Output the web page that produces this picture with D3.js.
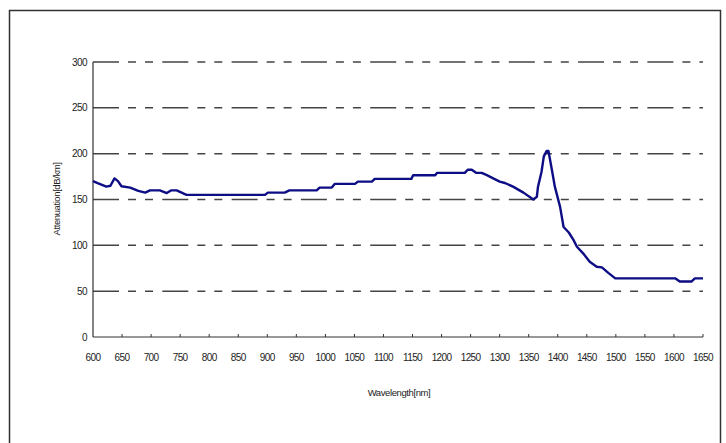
<!DOCTYPE html>
<meta charset="utf-8">
<style>
body { margin: 0; background: #fff; }
text { font-family: "Liberation Sans Narrow", "Liberation Sans", Arial, sans-serif; fill: #222; }
.grid line { stroke: #444; stroke-width: 1.5px; stroke-dasharray: 26,9,8,9,8,9.3; }
</style>
<svg width="726" height="443"></svg>
<script src="https://d3js.org/d3.v7.min.js"></script>
<script>

var wavelength = [600, 609, 623, 630, 637, 643, 649, 664, 678, 690, 698, 715, 727, 735, 744, 761,
  896, 901, 930, 938, 985, 990, 1011, 1016, 1051, 1056, 1080, 1085, 1148, 1151, 1189, 1192,
  1240, 1245, 1252, 1260, 1269, 1278, 1283, 1300, 1309, 1323, 1341, 1358, 1364, 1366, 1372,
  1376, 1381, 1384, 1390, 1395, 1404, 1410, 1419, 1427, 1433, 1444, 1455, 1467, 1476, 1487,
  1499, 1602, 1610, 1630, 1636, 1650];
var attenuation = [170, 167.5, 164, 165, 173, 170, 164.5, 163, 159.5, 157.5, 160, 160, 157, 160, 160, 155,
  155, 157.5, 157.5, 160, 160, 163, 163, 167, 167, 169.5, 169.5, 172.5, 172.5, 176.5, 176.5, 179,
  179, 182.5, 182.5, 179, 179, 176.5, 175, 169.5, 168, 164, 157.5, 150, 153, 164, 180,
  197, 203, 203, 182, 164, 142, 120, 114, 106, 98.5, 91, 82, 76.7, 76, 70,
  64, 64, 60.5, 60.5, 64, 64];

var xTicks = d3.range(600, 1651, 50);
var yTicks = [0, 50, 100, 150, 200, 250, 300];

var svg = d3.select("svg");

// outer frame
svg.append("rect")
    .attr("x", 9.5).attr("y", 10.5)
    .attr("width", 711).attr("height", 450)
    .attr("fill", "none").attr("stroke", "#333").attr("stroke-width", 1.5);

var x = d3.scaleLinear().domain([600, 1650]).range([93, 703]);
var y = d3.scaleLinear().domain([0, 300]).range([337, 62]);

// dashed grid
svg.append("g").attr("class", "grid")
  .selectAll("line")
  .data(yTicks.slice(1))
  .enter().append("line")
    .attr("x1", x(600)).attr("x2", x(1650))
    .attr("y1", function(d) { return y(d); })
    .attr("y2", function(d) { return y(d); });

// y axis
svg.append("line")
    .attr("x1", x(600)).attr("x2", x(600))
    .attr("y1", y(0)).attr("y2", y(300))
    .attr("stroke", "#333").attr("stroke-width", 1.2);

svg.append("g").selectAll("text")
  .data(yTicks)
  .enter().append("text")
    .attr("x", 87)
    .attr("y", function(d) { return y(d) + 3.5; })
    .attr("text-anchor", "end")
    .style("font-size", "10px")
    .style("letter-spacing", "-0.6px")
    .text(function(d) { return d; });

// x axis
svg.append("line")
    .attr("x1", x(600)).attr("x2", x(1650))
    .attr("y1", y(0)).attr("y2", y(0))
    .attr("stroke", "#333").attr("stroke-width", 1.2);

svg.append("g").selectAll("line")
  .data(xTicks.slice(1))
  .enter().append("line")
    .attr("x1", function(d) { return x(d); })
    .attr("x2", function(d) { return x(d); })
    .attr("y1", y(0)).attr("y2", y(0) - 3)
    .attr("stroke", "#333").attr("stroke-width", 1);

svg.append("g").selectAll("text")
  .data(xTicks)
  .enter().append("text")
    .attr("x", function(d) { return x(d); })
    .attr("y", 361)
    .attr("text-anchor", "middle")
    .style("font-size", "10px")
    .style("letter-spacing", "-0.6px")
    .text(function(d) { return d; });

// axis titles
svg.append("text")
    .attr("x", 399).attr("y", 396)
    .attr("text-anchor", "middle")
    .style("font-size", "9.5px")
    .style("letter-spacing", "-0.4px")
    .text("Wavelength[nm]");

svg.append("text")
    .attr("transform", "translate(60,199) rotate(-90)")
    .attr("text-anchor", "middle")
    .style("font-size", "9.5px")
    .style("letter-spacing", "-0.4px")
    .text("Attenuation[dB/km]");

// data line
var line = d3.line()
    .x(function(d, i) { return x(wavelength[i]); })
    .y(function(d) { return y(d); });

svg.append("path")
    .datum(attenuation)
    .attr("d", line)
    .attr("fill", "none")
    .attr("stroke", "#0d0d85")
    .attr("stroke-width", 2.4)
    .attr("stroke-linejoin", "round");

</script>
